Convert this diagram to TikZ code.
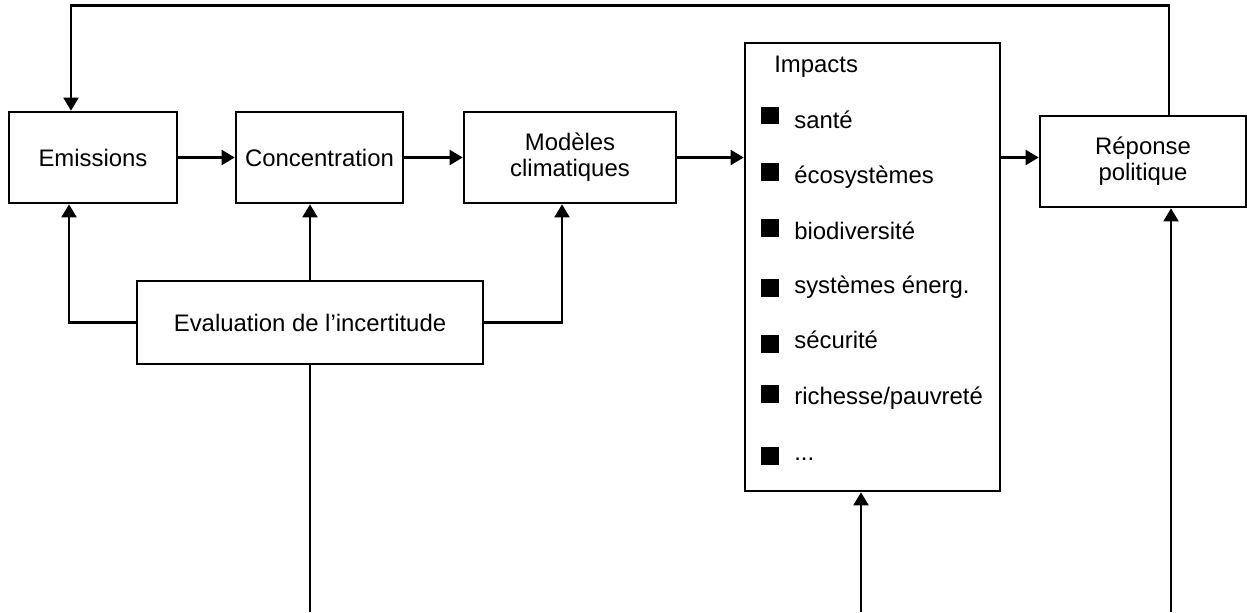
\documentclass[tikz,border=0pt]{standalone}
\usepackage{fontspec}
\setmainfont{Liberation Sans}
\usetikzlibrary{arrows.meta}
\tikzset{blk/.style 2 args = {
    draw,
    minimum width = #1,
    minimum height = #2,
    inner sep = 0pt,
    align = center,
}}
\tikzset{arr/.style = {-{Triangle[length=7.4pt,width=8.4pt]}}}
\tikzset{sq/.style = {fill, minimum size = 0.36cm, inner sep = 0pt}}
\tikzset{itm/.style = {anchor = base west, inner sep = 0pt}}

\begin{document}
\begin{tikzpicture}[x=0.02cm,y=-0.02cm,line width=1.5pt]
  \fontsize{13.6}{14.6}\selectfont
  \useasboundingbox (0,0) rectangle (1247,612);
  \node[blk={3.36cm}{1.82cm}](e) at ( 93,157.5) {Emissions};
  \node[blk={3.34cm}{1.82cm}](c) at (319.5,157.5) {Concentration};
  \node[blk={4.24cm}{1.82cm}](m) at (570,157.5) {Modèles\\climatiques};
  \node[blk={5.10cm}{8.96cm}](i) at (872.5,267) {};
  \node[blk={4.12cm}{1.82cm}](r) at (1143,161.5) {Réponse\\politique};
  \node[blk={6.92cm}{1.66cm}](ev) at (310,322.5) {Evaluation de l’incertitude};
  % contenu du bloc impacts
  \node[itm](ttl) at (773,72) {Impacts};
  \foreach \n/\by/\sy/\txt in {1/128/115.5/santé, 2/183/171.5/écosystèmes,
      3/239/227.5/biodiversité, 4/293/288/systèmes énerg., 5/348/343.5/sécurité,
      6/404/394/richesse\slash pauvreté, 7/460/456/.{}.{}.}{
    \node[sq](b\n) at (770,\sy) {};
    \node[itm](t\n) at (793,\by) {\txt};
  }
  % entrees du bas
  \coordinate (in1) at ( 310,612);
  \coordinate (in2) at ( 861,612);
  \coordinate (in3) at (1171,612);
  \draw[arr](e) -- (c);
  \draw[arr](c) -- (m);
  \draw[arr](m.east) -- (m.east -| i.west);
  \draw[arr](m.east -| i.east) -- (m.east -| r.west);
  \draw[arr]([xshift=0.52cm]r.north) -- ++(0,-109) -| ([xshift=-0.44cm]e.north);
  \draw[arr](ev.west) -| ([xshift=-0.48cm]e.south);
  \draw[arr](ev.north) -- (ev.north |- c.south);
  \draw[arr](ev.east) -| ([xshift=-0.16cm]m.south);
  \draw(ev.south) -- (in1);
  \draw[arr](in2) -- (in2 |- i.south);
  \draw[arr](in3) -- (in3 |- r.south);
\end{tikzpicture}
\end{document}
